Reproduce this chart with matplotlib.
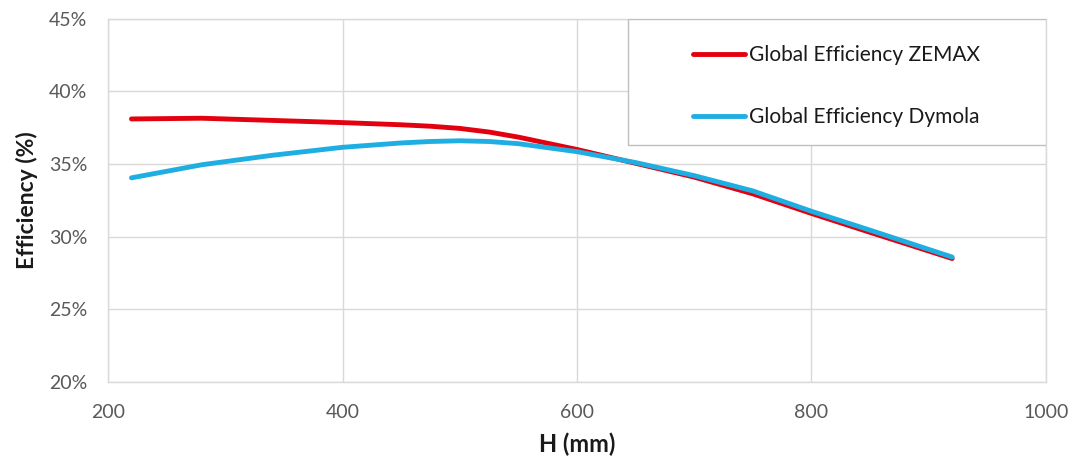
import matplotlib
matplotlib.use("Agg")
import matplotlib.pyplot as plt
from matplotlib.ticker import FuncFormatter
from matplotlib.patches import Rectangle

h_mm = [220, 280, 340, 400, 450, 475, 500, 525, 550, 600, 650, 700, 750, 800, 850, 920]
eff_zemax = [38.1, 38.15, 38.0, 37.85, 37.7, 37.6, 37.45, 37.2, 36.85, 36.0, 35.05, 34.1, 32.95, 31.6, 30.3, 28.5]
eff_dymola = [34.05, 34.95, 35.6, 36.15, 36.45, 36.55, 36.6, 36.55, 36.4, 35.85, 35.1, 34.2, 33.15, 31.75, 30.45, 28.6]
series_names = ["Global Efficiency ZEMAX", "Global Efficiency Dymola"]
x_ticks = [200, 400, 600, 800, 1000]
y_ticks = [20, 25, 30, 35, 40, 45]

plt.rcParams['font.family'] = ['Lato', 'DejaVu Sans']

fig = plt.figure(figsize=(10.77, 4.66), dpi=100)
ax = fig.add_axes([0.1003, 0.18, 0.8709, 0.78])

ax.plot(h_mm, eff_zemax, color="#E3000F", lw=3.5, label=series_names[0],
        solid_capstyle="round", solid_joinstyle="round", zorder=3)
ax.plot(h_mm, eff_dymola, color="#1FAEE2", lw=3.5, label=series_names[1],
        solid_capstyle="round", solid_joinstyle="round", zorder=4)

ax.set_xlim(200, 1000)
ax.set_ylim(20, 45)
ax.set_xticks(x_ticks)
ax.set_yticks(y_ticks)
ax.yaxis.set_major_formatter(FuncFormatter(lambda v, p: f"{v:.0f}%"))
ax.grid(True, color="#D9D9D9", lw=1.0)
ax.set_axisbelow(True)
for s in ax.spines.values():
    s.set_color("#D9D9D9")
    s.set_linewidth(1.0)
ax.tick_params(axis="both", length=0, labelsize=14, colors="#595959")
ax.tick_params(axis="y", pad=15)
ax.tick_params(axis="x", pad=16)

ax.set_xlabel("H (mm)", fontsize=17, fontweight="bold", color="#1a1a1a", labelpad=8)
ax.set_ylabel("Efficiency (%)", fontsize=16.5, fontweight="bold", color="#1a1a1a", labelpad=8)

# legend box
box = (0.554, 0.653, 0.446, 0.347)
ax.add_patch(Rectangle((box[0], box[1]), box[2], box[3], transform=ax.transAxes,
                       facecolor="white", edgecolor="#BFBFBF", lw=1.0, zorder=5))
leg_box = (box[0], box[1] - 0.012, box[2], box[3])
leg = ax.legend(loc="center", bbox_to_anchor=leg_box, fontsize=15, frameon=False,
                handlelength=2.5, handletextpad=0.2, labelspacing=2.0,
                borderpad=0.0, borderaxespad=0.0)
leg.set_zorder(6)
for t in leg.get_texts():
    t.set_color("#1a1a1a")

fig.savefig("out.png", dpi=100, facecolor="white")
